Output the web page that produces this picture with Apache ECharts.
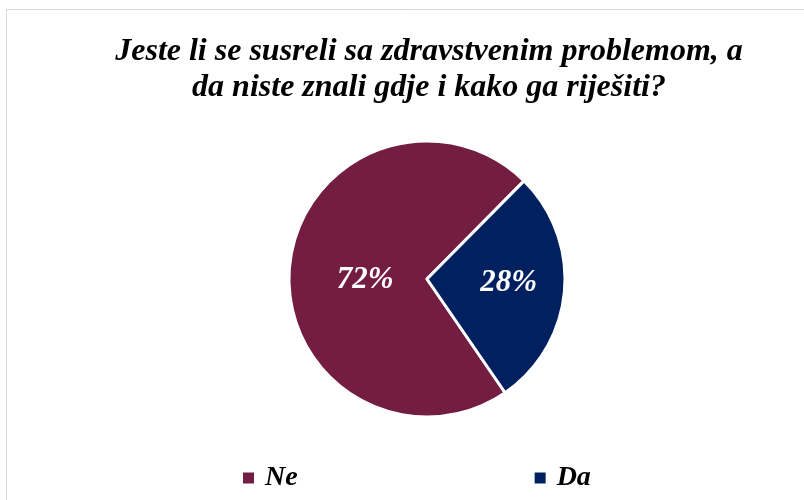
<!DOCTYPE html>
<html>
<head>
<meta charset="utf-8">
<script src="https://cdn.jsdelivr.net/npm/echarts@6/dist/echarts.min.js"></script>
<style>
  html, body { margin: 0; padding: 0; background: #fff; }
  #chart { width: 804px; height: 500px; }
</style>
</head>
<body>
<div id="chart"></div>
<script>
// podaci sa slike
var categories = ['Ne', 'Da'];
var values = [72, 28];
var colors = ['#721D41', '#002060'];
var labelOffsets = [[10, 7], [10, -2]];
var titleText = 'Jeste li se susreli sa zdravstvenim problemom, a\nda niste znali gdje i kako ga riješiti?';

var serif = '"Liberation Serif", "Times New Roman", serif';

var myChart = echarts.init(document.getElementById('chart'));
var option = {
  backgroundColor: '#fff',
  title: {
    text: titleText,
    left: 424,
    top: 29,
    textAlign: 'center',
    textStyle: {
      fontFamily: serif,
      fontSize: 32,
      fontWeight: 'bold',
      fontStyle: 'italic',
      color: '#000',
      lineHeight: 36
    }
  },
  legend: {
    left: 243,
    top: 464,
    padding: 0,
    itemWidth: 11,
    itemHeight: 11,
    itemGap: 237,
    icon: 'rect',
    itemStyle: { borderWidth: 0 },
    textStyle: {
      fontFamily: serif,
      fontSize: 28,
      fontWeight: 'bold',
      fontStyle: 'italic',
      color: '#000',
      padding: [0, 0, 0, 6]
    },
    data: categories
  },
  graphic: [{
    type: 'rect',
    shape: { x: 6.5, y: 9.5, width: 900, height: 600 },
    style: { fill: 'none', stroke: '#d9d9d9', lineWidth: 1 },
    silent: true
  }],
  series: [{
    type: 'pie',
    center: [427, 279],
    radius: 138,
    startAngle: 304.5,
    clockwise: true,
    animation: false,
    itemStyle: { borderColor: '#fff', borderWidth: 3 },
    label: {
      position: 'inner',
      formatter: '{c}%',
      fontFamily: serif,
      fontSize: 31,
      fontWeight: 'bold',
      fontStyle: 'italic',
      color: '#fff'
    },
    labelLine: { show: false },
    data: categories.map(function (name, i) {
      return {
        name: name,
        value: values[i],
        itemStyle: { color: colors[i] },
        label: { offset: labelOffsets[i] }
      };
    })
  }]
};
myChart.setOption(option, true);
</script>
</body>
</html>
